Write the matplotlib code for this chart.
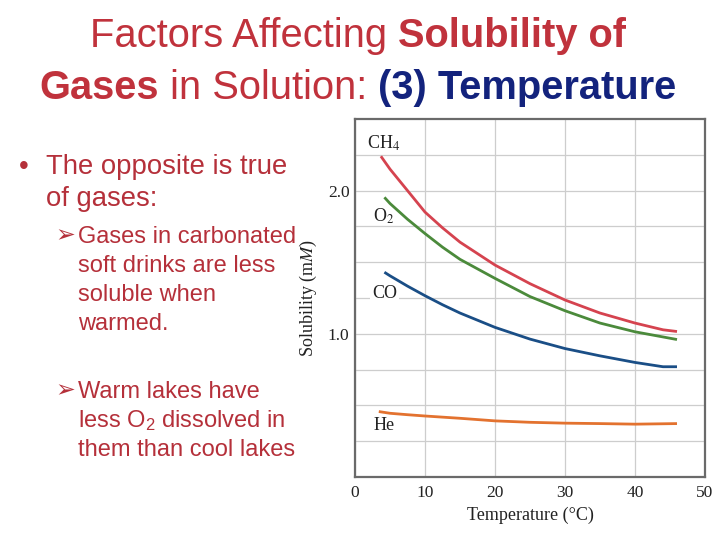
import numpy as np
import matplotlib
matplotlib.use('Agg')
import matplotlib.pyplot as plt
from matplotlib.transforms import IdentityTransform

plt.rcParams['mathtext.fontset'] = 'custom'
plt.rcParams['mathtext.rm'] = 'Liberation Sans'
plt.rcParams['mathtext.it'] = 'Liberation Sans:italic'
plt.rcParams['mathtext.bf'] = 'Liberation Sans:bold'

# ---------------- data ----------------
temps_ch4 = [3.7, 5, 7.5, 10, 12.5, 15, 20, 25, 30, 35, 40, 44, 46]
sol_ch4 = [2.24, 2.15, 2.0, 1.85, 1.74, 1.64, 1.48, 1.35, 1.236, 1.145, 1.075, 1.028, 1.016]
temps_o2 = [4.2, 5, 7.5, 10, 12.5, 15, 20, 25, 30, 35, 40, 46]
sol_o2 = [1.953, 1.91, 1.80, 1.70, 1.605, 1.52, 1.387, 1.26, 1.161, 1.075, 1.014, 0.96]
temps_co = [4.2, 5, 7.5, 10, 12.5, 15, 20, 25, 30, 35, 40, 44, 46]
sol_co = [1.43, 1.405, 1.333, 1.266, 1.203, 1.145, 1.045, 0.963, 0.897, 0.846, 0.80, 0.77, 0.77]
temps_he = [3.4, 5, 7.5, 10, 15, 20, 25, 30, 35, 40, 46]
sol_he = [0.457, 0.445, 0.435, 0.426, 0.41, 0.392, 0.382, 0.376, 0.373, 0.369, 0.373]

gas_labels = ['CH$_4$', 'O$_2$', 'CO', 'He']
label_pos = [(1.7, 2.33), (2.6, 1.82), (2.4, 1.28), (2.6, 0.36)]
x_ticks = [0, 10, 20, 30, 40, 50]
y_ticks = [1.0, 2.0]
y_tick_labels = ['1.0', '2.0']
y_grid = [0.25, 0.5, 0.75, 1.0, 1.25, 1.5, 1.75, 2.0, 2.25]

colors = ['#d5434f', '#4b8a3b', '#1a4e86', '#e3722f']

TITLE_RED = '#c0323c'
TITLE_BLUE = '#13237d'
TEXT_RED = '#b5303a'

# ---------------- figure ----------------
fig = plt.figure(figsize=(7.2, 5.4), dpi=100)
W, H = 720, 540
ax = fig.add_axes([355 / W, 1 - 477 / H, 350 / W, 358 / H])
ax.set_xlim(0, 50)
ax.set_ylim(0, 2.5)
ax.set_xticks(x_ticks)
ax.set_yticks(y_ticks)
ax.set_yticklabels(y_tick_labels)
ax.set_yticks(y_grid, minor=True)
ax.set_axisbelow(True)
ax.grid(True, which='both', color='#cdcdcd', lw=0.9)
ax.tick_params(which='both', length=0, labelsize=12.5, colors='#222222')
ax.tick_params(axis='x', pad=6)
ax.tick_params(axis='y', pad=4)
for lab in ax.get_xticklabels() + ax.get_yticklabels():
    lab.set_family('Liberation Serif')
for sp in ax.spines.values():
    sp.set_color('#6a6a6a')
    sp.set_linewidth(1.6)

series = [(temps_ch4, sol_ch4), (temps_o2, sol_o2), (temps_co, sol_co), (temps_he, sol_he)]
for (tx, sy), c in zip(series, colors):
    ax.plot(tx, sy, color=c, lw=2.0, solid_capstyle='butt', solid_joinstyle='round')

for lab, (lx, ly) in zip(gas_labels, label_pos):
    kw = {}
    if lab == 'CO':
        kw['bbox'] = dict(facecolor='white', edgecolor='none', pad=1.5)
    ax.text(lx, ly, lab, fontsize=13, family='Liberation Serif', math_fontfamily='stix',
            va='center', ha='left', color='#222222', **kw)

ax.set_xlabel('Temperature (°C)', family='Liberation Serif', fontsize=13, color='#222222', labelpad=4)
ax.set_ylabel('Solubility (m$\\mathit{M}$)', family='Liberation Serif', fontsize=13,
              math_fontfamily='stix', color='#222222', labelpad=6)

# ---------------- slide text ----------------
renderer = fig.canvas.get_renderer()
ID = IdentityTransform()


def width_of(s, kw):
    t1 = fig.text(0, 0, 'x' + s + 'x', transform=ID, **kw)
    t2 = fig.text(0, 0, 'xx', transform=ID, **kw)
    w = t1.get_window_extent(renderer).width - t2.get_window_extent(renderer).width
    t1.remove(); t2.remove()
    return w


def draw_seq(pieces, x, ytop, center=False):
    y = H - ytop
    ws = [width_of(s, kw) for s, kw in pieces]
    if center:
        x = x - sum(ws) / 2
    for (s, kw), w in zip(pieces, ws):
        fig.text(x, y, s, transform=ID, va='baseline', ha='left', **kw)
        x += w


reg = dict(family='Liberation Sans', fontsize=28.7, color=TITLE_RED)
bold = dict(family='Liberation Sans', fontsize=28.7, color=TITLE_RED, weight='bold')
bblue = dict(family='Liberation Sans', fontsize=28.7, color=TITLE_BLUE, weight='bold')
draw_seq([('Factors Affecting ', reg), ('Solubility of', bold)], 358, 47, center=True)
draw_seq([('Gases', bold), (' in Solution: ', reg), ('(3) Temperature', bblue)], 358, 99, center=True)

b1 = dict(family=['Liberation Sans', 'DejaVu Sans'], fontsize=19.8, color=TEXT_RED)
b2 = dict(family=['Liberation Sans', 'DejaVu Sans'], fontsize=17, color=TEXT_RED, math_fontfamily='custom')
arrow = dict(family='DejaVu Sans', fontsize=17, color=TEXT_RED, weight='bold')

fig.text(19, H - 174, '•', transform=ID, va='baseline', ha='left', **b1)
fig.text(46, H - 174, 'The opposite is true', transform=ID, va='baseline', ha='left', **b1)
fig.text(46, H - 206, 'of gases:', transform=ID, va='baseline', ha='left', **b1)

fig.text(65, H - 235.5, '➢', transform=ID, va='center', ha='center', **arrow)
lines1 = ['Gases in carbonated', 'soft drinks are less', 'soluble when', 'warmed.']
for i, s in enumerate(lines1):
    fig.text(78, H - (243 + 29 * i), s, transform=ID, va='baseline', ha='left', **b2)

fig.text(65, H - 390.5, '➢', transform=ID, va='center', ha='center', **arrow)
lines2 = ['Warm lakes have', 'less O$_2$ dissolved in', 'them than cool lakes']
for i, s in enumerate(lines2):
    fig.text(78, H - (398 + 29 * i), s, transform=ID, va='baseline', ha='left', **b2)

fig.savefig('out.png', dpi=100)
